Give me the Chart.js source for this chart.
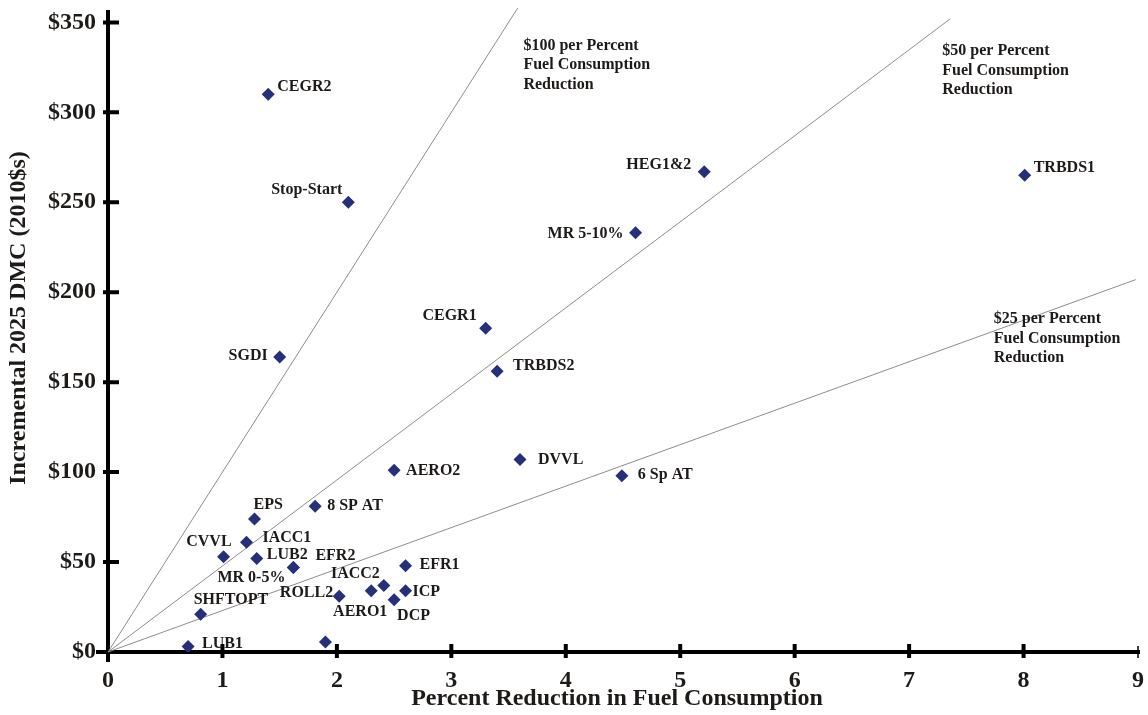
<!DOCTYPE html>
<html>
<head>
<meta charset="utf-8">
<script src="https://cdn.jsdelivr.net/npm/chart.js@4.4.1/dist/chart.umd.min.js"></script>
<style>
  html, body { margin: 0; background: #fff; }
  #wrap { width: 1148px; height: 715px; }
</style>
</head>
<body>
<div id="wrap"><canvas id="chart"></canvas></div>
<script>
/* ---------- data ---------- */
const techNames    = ['CEGR2', 'Stop-Start', 'HEG1&2', 'TRBDS1', 'MR 5-10%', 'CEGR1', 'TRBDS2', 'SGDI',
                      'DVVL', 'AERO2', '6 Sp AT', 'EPS', '8 SP AT', 'IACC1', 'CVVL', 'LUB2', 'MR 0-5%',
                      'EFR2', 'EFR1', 'IACC2', 'ROLL2', 'AERO1', 'DCP', 'ICP', 'SHFTOPT', 'LUB1', ''];
const pctReduction = [1.40, 2.10, 5.21, 8.01, 4.61, 3.30, 3.40, 1.50,
                      3.60, 2.50, 4.49, 1.28, 1.81, 1.21, 1.01, 1.30, 1.62,
                      1.62, 2.60, 2.41, 2.02, 2.30, 2.50, 2.60, 0.81, 0.70, 1.90];
const costDMC      = [310, 250, 267, 265, 233, 180, 156, 164,
                      107, 101, 98, 74, 81, 61, 53, 52, 47,
                      47, 48, 37, 31, 34, 29, 34, 21, 3, 5.5];

// $/percent reference lines, drawn from the origin to where they end in the figure
const guideNames = ['$100', '$50', '$25'];
const guideEndX  = [3.58, 7.36, 8.98];
const guideEndY  = [358, 352, 207];

const xTicks = [0, 1, 2, 3, 4, 5, 6, 7, 8, 9];
const yTicks = [0, 50, 100, 150, 200, 250, 300, 350];

/* ---------- layout / style ---------- */
const SERIF   = '"Liberation Serif", "Times New Roman", serif';
const INK     = '#1d1a18';
const MARKER  = '#26307a';

// label placement relative to its point: [dx, dy, align]
const labelPos = {
  'CEGR2': [9, -7, 'left'],     'Stop-Start': [-6, -12, 'right'], 'HEG1&2': [-13, -7, 'right'],
  'TRBDS1': [9, -7, 'left'],    'MR 5-10%': [-12, 1, 'right'],    'CEGR1': [-9, -12, 'right'],
  'TRBDS2': [16, -6, 'left'],   'SGDI': [-12, -1, 'right'],       'DVVL': [18, 0, 'left'],
  'AERO2': [12, 1, 'left'],     '6 Sp AT': [16, -1, 'left'],      'EPS': [-1, -14, 'left'],
  '8 SP AT': [12, 0, 'left'],   'IACC1': [16, -4, 'left'],        'CVVL': [8, -15, 'right'],
  'LUB2': [10, -4, 'left'],     'MR 0-5%': [-8, 10, 'right'],     'EFR2': [22, -12, 'left'],
  'EFR1': [14, -1, 'left'],     'IACC2': [-4, -12, 'right'],      'ROLL2': [-6, -3, 'right'],
  'AERO1': [-11, 21, 'center'], 'DCP': [3, 16, 'left'],           'ICP': [7, 1, 'left'],
  'SHFTOPT': [-7, -14, 'left'], 'LUB1': [14, -3, 'left']
};

// guide-line captions, anchored in data units at the first line's left edge
const notes = [
  { x: 3.63, y: 337, lines: ['$100 per Percent', 'Fuel Consumption', 'Reduction'] },
  { x: 7.29, y: 334, lines: ['$50 per Percent', 'Fuel Consumption', 'Reduction'] },
  { x: 7.74, y: 185, lines: ['$25 per Percent', 'Fuel Consumption', 'Reduction'] }
];

/* ---------- plugins ---------- */
const axesPlugin = {
  id: 'axesCross',
  beforeDatasetsDraw(chart) {
    const { ctx, scales: { x, y } } = chart;
    const x0 = x.getPixelForValue(0), y0 = y.getPixelForValue(0);
    ctx.save();
    ctx.strokeStyle = '#000';
    ctx.lineWidth = 4;
    ctx.beginPath();
    ctx.moveTo(x0, y0 + 10); ctx.lineTo(x0, y.getPixelForValue(y.max) + 2);
    ctx.moveTo(x0 - 12, y0); ctx.lineTo(x.getPixelForValue(9) + 2, y0);
    ctx.stroke();
    ctx.beginPath();
    yTicks.forEach(v => {
      const py = y.getPixelForValue(v);
      ctx.moveTo(x0 - 5, py); ctx.lineTo(x0 + 11, py);
    });
    xTicks.slice(1, -1).forEach(v => {
      const px = x.getPixelForValue(v);
      ctx.moveTo(px, y0 - 8); ctx.lineTo(px, y0 + 6);
    });
    ctx.stroke();
    ctx.lineWidth = 1.5;
    const p9 = x.getPixelForValue(9);
    ctx.beginPath(); ctx.moveTo(p9, y0 - 6); ctx.lineTo(p9, y0 + 6); ctx.stroke();
    ctx.restore();
  }
};

const textPlugin = {
  id: 'texts',
  afterDatasetsDraw(chart) {
    const { ctx, scales: { x, y } } = chart;
    ctx.save();
    ctx.fillStyle = INK;
    ctx.textBaseline = 'middle';
    ctx.font = 'bold 16px ' + SERIF;

    // point labels
    chart.getDatasetMeta(0).data.forEach((pt, i) => {
      const name = techNames[i];
      if (!name) return;
      const [dx, dy, align] = labelPos[name];
      ctx.textAlign = align;
      ctx.fillText(name, pt.x + dx, pt.y + dy);
    });

    // guide captions
    ctx.textAlign = 'left';
    notes.forEach(n => {
      const px = x.getPixelForValue(n.x), py = y.getPixelForValue(n.y);
      n.lines.forEach((t, k) => ctx.fillText(t, px, py + k * 19.5));
    });

    // axis titles
    ctx.font = 'bold 24px ' + SERIF;
    ctx.textAlign = 'center';
    ctx.fillText('Percent Reduction in Fuel Consumption', 617, 699);
    ctx.translate(19, 318);
    ctx.rotate(-Math.PI / 2);
    ctx.fillText('Incremental 2025 DMC (2010$s)', 0, 0);
    ctx.restore();
  }
};

/* ---------- chart ---------- */
const guideSets = guideNames.map((g, i) => ({
  type: 'line',
  label: g,
  data: [{ x: 0, y: 0 }, { x: guideEndX[i], y: guideEndY[i] }],
  borderColor: '#8c8c8c',
  borderWidth: 1,
  pointRadius: 0,
  clip: false
}));

new Chart(document.getElementById('chart'), {
  type: 'scatter',
  data: {
    datasets: [{
      label: 'Technologies',
      data: pctReduction.map((v, i) => ({ x: v, y: costDMC[i] })),
      pointStyle: 'rectRot',
      pointRadius: 6.5,
      backgroundColor: MARKER,
      borderColor: MARKER,
      borderWidth: 0
    }, ...guideSets]
  },
  options: {
    responsive: true,
    maintainAspectRatio: false,
    animation: false,
    layout: { padding: { top: 8, right: 10, left: 0, bottom: 0 } },
    plugins: { legend: { display: false }, tooltip: { enabled: false } },
    scales: {
      x: {
        type: 'linear', min: 0, max: 9,
        afterFit: s => { s.height = 63; s.paddingLeft = 0; s.paddingRight = 0; },
        afterBuildTicks: s => { s.ticks = xTicks.map(v => ({ value: v })); },
        grid: { display: false }, border: { display: false },
        ticks: { padding: 6, color: INK, font: { family: SERIF, size: 24, weight: 'bold' } }
      },
      y: {
        min: 0, max: 358,
        afterFit: s => { s.width = 108; s.paddingTop = 0; s.paddingBottom = 0; },
        afterBuildTicks: s => { s.ticks = yTicks.map(v => ({ value: v })); },
        grid: { display: false }, border: { display: false },
        ticks: {
          padding: 4, color: INK,
          font: { family: SERIF, size: 24, weight: 'bold' },
          callback: v => '$' + v
        }
      }
    }
  },
  plugins: [axesPlugin, textPlugin]
});
</script>
</body>
</html>
